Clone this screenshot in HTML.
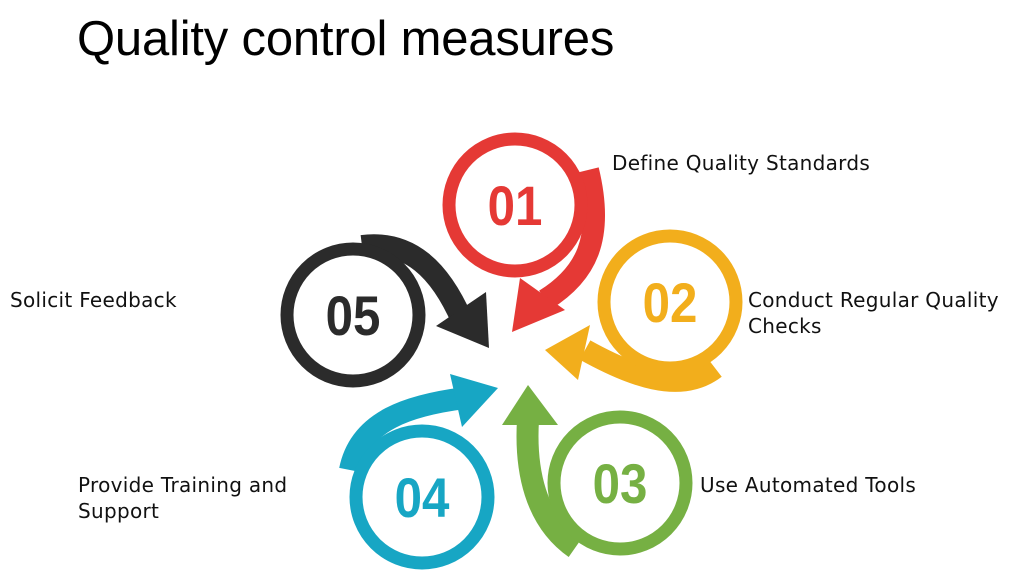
<!DOCTYPE html>
<html><head><meta charset="utf-8"><style>
html,body{margin:0;padding:0;background:#fff;}
body{width:1024px;height:583px;overflow:hidden;position:relative;font-family:"Liberation Sans",sans-serif;}
.t{position:absolute;color:#111;line-height:26px;font-family:"DejaVu Sans","Liberation Sans",sans-serif;font-size:20px;letter-spacing:0.3px;}
</style></head><body>
<div style="position:absolute;left:77px;top:11px;font-size:49px;color:#000;letter-spacing:-0.2px;">Quality control measures</div>
<div class="t" style="left:612px;top:150px;">Define Quality Standards</div>
<div class="t" style="left:748px;top:287px;">Conduct Regular Quality<br>Checks</div>
<div class="t" style="left:700px;top:472px;">Use Automated Tools</div>
<div class="t" style="left:78px;top:472px;">Provide Training and<br>Support</div>
<div class="t" style="left:10px;top:287px;">Solicit Feedback</div>
<svg width="1024" height="583" style="position:absolute;left:0;top:0" xmlns="http://www.w3.org/2000/svg">
<g fill="none" stroke-width="22">
<path d="M588,170 C605,240 585,275 545,300" stroke="#e53935"/>
<path d="M715,368 C680,395 630,375 585,350" stroke="#f2ae1c"/>
<path d="M575,548 C535,520 525,470 528,420" stroke="#76b043"/>
<path d="M350,470 C360,420 410,405 465,398" stroke="#17a6c4"/>
<path d="M362,246 C410,240 440,270 462,320" stroke="#2b2b2b"/>
</g>
<polygon points="512,332 520,278 565,310" fill="#e53935"/>
<polygon points="545,350 590,325 578,380" fill="#f2ae1c"/>
<polygon points="528,385 502,425 558,425" fill="#76b043"/>
<polygon points="498,388 450,374 462,427" fill="#17a6c4"/>
<polygon points="489,348 486,292 436,326" fill="#2b2b2b"/>
<g fill="#fff" stroke-width="13">
<circle cx="515" cy="205" r="66" stroke="#e53935"/>
<circle cx="670" cy="302" r="66" stroke="#f2ae1c"/>
<circle cx="620" cy="483" r="66" stroke="#76b043"/>
<circle cx="422" cy="497" r="66" stroke="#17a6c4"/>
<circle cx="353" cy="315" r="66" stroke="#2b2b2b"/>
</g>
<g font-family="Liberation Sans" font-weight="bold" font-size="56" text-anchor="middle">
<text x="515" y="225" fill="#e53935" transform="translate(515 0) scale(0.88 1) translate(-515 0)">01</text>
<text x="670" y="322" fill="#f2ae1c" transform="translate(670 0) scale(0.88 1) translate(-670 0)">02</text>
<text x="620" y="503" fill="#76b043" transform="translate(620 0) scale(0.88 1) translate(-620 0)">03</text>
<text x="422" y="517" fill="#17a6c4" transform="translate(422 0) scale(0.88 1) translate(-422 0)">04</text>
<text x="353" y="335" fill="#2b2b2b" transform="translate(353 0) scale(0.88 1) translate(-353 0)">05</text>
</g>
</svg>
</body></html>
